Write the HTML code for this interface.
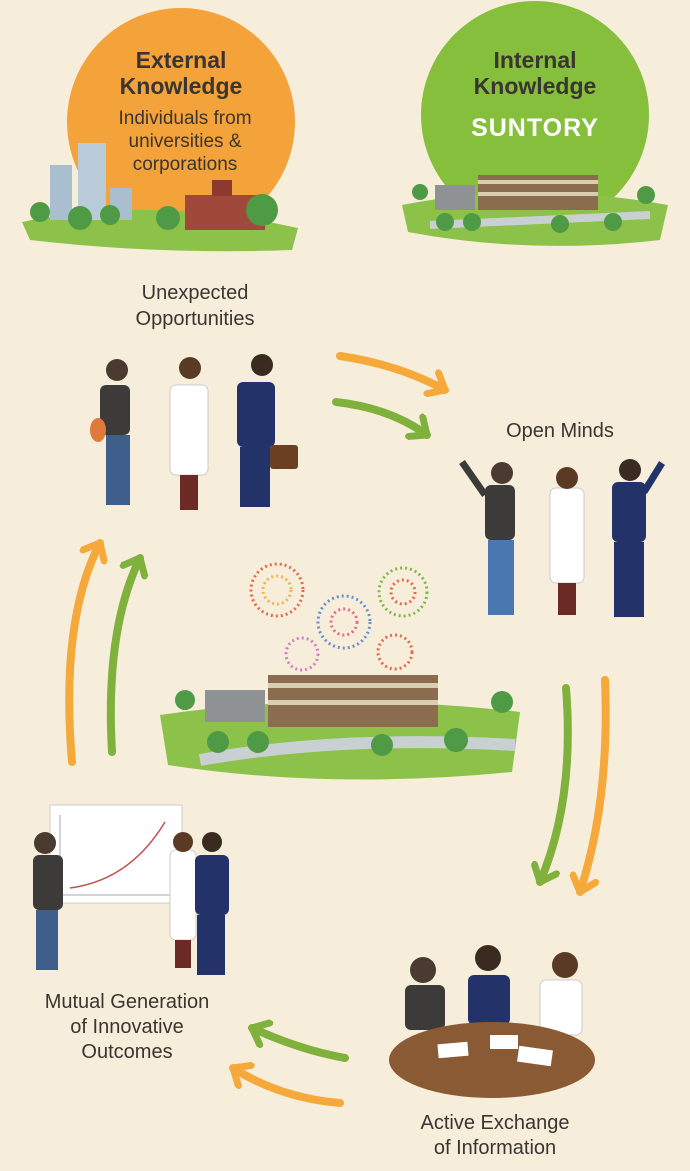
<!DOCTYPE html>
<html><head><meta charset="utf-8"><style>
body{margin:0;background:#f6eedb;}
svg{display:block}
text{font-family:"Liberation Sans",sans-serif;fill:#3a3530;}
</style></head><body>
<svg width="690" height="1171" viewBox="0 0 690 1171" xmlns="http://www.w3.org/2000/svg">
<defs>
<marker id="ao" markerWidth="30" markerHeight="30" refX="19" refY="15" orient="auto" markerUnits="userSpaceOnUse"><path d="M5,3 L19,15 L5,27" fill="none" stroke="#f5a93a" stroke-width="7" stroke-linecap="round" stroke-linejoin="round"/></marker>
<marker id="ag" markerWidth="30" markerHeight="30" refX="19" refY="15" orient="auto" markerUnits="userSpaceOnUse"><path d="M5,3 L19,15 L5,27" fill="none" stroke="#7fb13c" stroke-width="7" stroke-linecap="round" stroke-linejoin="round"/></marker>
</defs>
<rect width="690" height="1171" fill="#f6eedb"/>
<circle cx="181" cy="122" r="114" fill="#f4a23a"/>
<circle cx="535" cy="115" r="114" fill="#86bf3c"/>
<g text-anchor="middle" font-weight="bold">
<text x="181" y="68" font-size="23">External</text>
<text x="181" y="94" font-size="23">Knowledge</text>
<text x="535" y="68" font-size="23">Internal</text>
<text x="535" y="94" font-size="23">Knowledge</text>
<text x="535" y="136" font-size="25" style="fill:#fff" letter-spacing="1">SUNTORY</text>
</g>
<g text-anchor="middle" font-size="19">
<text x="185" y="124">Individuals from</text>
<text x="185" y="147">universities &amp;</text>
<text x="185" y="170">corporations</text>
</g>
<path d="M22,222 Q150,195 298,228 L292,250 Q160,255 30,240 Z" fill="#8cc14a"/>
<rect x="50" y="165" width="22" height="55" fill="#a9bfd0"/>
<rect x="78" y="143" width="28" height="77" fill="#b9cbd8"/>
<rect x="110" y="188" width="22" height="32" fill="#a9bfd0"/>
<rect x="185" y="195" width="80" height="35" fill="#a0493a"/>
<rect x="212" y="180" width="20" height="16" fill="#8b3a2d"/>
<circle cx="40" cy="212" r="10" fill="#4f9a45"/><circle cx="80" cy="218" r="12" fill="#4f9a45"/><circle cx="110" cy="215" r="10" fill="#4f9a45"/><circle cx="168" cy="218" r="12" fill="#4f9a45"/><circle cx="262" cy="210" r="16" fill="#4f9a45"/>
<path d="M402,205 Q530,180 668,205 L660,240 Q530,255 408,232 Z" fill="#8cc14a"/>
<path d="M430,225 L650,215" stroke="#c9d0d2" stroke-width="8"/>
<rect x="435" y="185" width="40" height="25" fill="#8f9294"/>
<rect x="478" y="175" width="120" height="35" fill="#8b6c4f"/>
<rect x="478" y="180" width="120" height="4" fill="#d9cfb0"/><rect x="478" y="192" width="120" height="4" fill="#d9cfb0"/>
<circle cx="420" cy="192" r="8" fill="#4f9a45"/><circle cx="445" cy="222" r="9" fill="#4f9a45"/><circle cx="472" cy="222" r="9" fill="#4f9a45"/><circle cx="560" cy="224" r="9" fill="#4f9a45"/><circle cx="613" cy="222" r="9" fill="#4f9a45"/><circle cx="646" cy="195" r="9" fill="#4f9a45"/>
<g text-anchor="middle" font-size="20">
<text x="195" y="299">Unexpected</text>
<text x="195" y="325">Opportunities</text>
<text x="560" y="437">Open Minds</text>
<text x="127" y="1008">Mutual Generation</text>
<text x="127" y="1033">of Innovative</text>
<text x="127" y="1058">Outcomes</text>
<text x="495" y="1129">Active Exchange</text>
<text x="495" y="1154">of Information</text>
</g>
<g fill="none" stroke-width="8" stroke-linecap="round">
<path d="M340,356 Q400,365 445,390" stroke="#f5a93a" marker-end="url(#ao)"/>
<path d="M336,402 Q390,408 427,435" stroke="#7fb13c" marker-end="url(#ag)"/>
<path d="M566,688 Q575,800 540,882" stroke="#7fb13c" marker-end="url(#ag)"/>
<path d="M605,680 Q610,800 580,892" stroke="#f5a93a" marker-end="url(#ao)"/>
<path d="M345,1058 Q300,1050 252,1028" stroke="#7fb13c" marker-end="url(#ag)"/>
<path d="M340,1103 Q280,1098 233,1068" stroke="#f5a93a" marker-end="url(#ao)"/>
<path d="M72,762 Q60,620 100,543" stroke="#f5a93a" marker-end="url(#ao)"/>
<path d="M112,752 Q105,630 140,558" stroke="#7fb13c" marker-end="url(#ag)"/>
</g>
<g>
<rect x="100" y="385" width="30" height="50" rx="6" fill="#3d3a3a"/>
<circle cx="117" cy="370" r="11" fill="#4a3a30"/>
<rect x="106" y="435" width="24" height="70" fill="#3f5e8c"/>
<ellipse cx="98" cy="430" rx="8" ry="12" fill="#e07a3a"/>
<rect x="170" y="385" width="38" height="90" rx="6" fill="#fff" stroke="#ccc"/>
<circle cx="190" cy="368" r="11" fill="#5a3a25"/>
<rect x="180" y="475" width="18" height="35" fill="#6b2a25"/>
<rect x="237" y="382" width="38" height="65" rx="6" fill="#23336a"/>
<circle cx="262" cy="365" r="11" fill="#3a2a20"/>
<rect x="240" y="447" width="30" height="60" fill="#23336a"/>
<rect x="270" y="445" width="28" height="24" rx="3" fill="#6b3f22"/>
</g>
<g>
<rect x="485" y="485" width="30" height="55" rx="6" fill="#3d3a3a"/>
<circle cx="502" cy="473" r="11" fill="#4a3a30"/>
<rect x="488" y="540" width="26" height="75" fill="#4b77b0"/>
<path d="M485,495 L462,462" stroke="#3d3a3a" stroke-width="7"/>
<rect x="550" y="488" width="34" height="95" rx="6" fill="#fff" stroke="#ccc"/>
<circle cx="567" cy="478" r="11" fill="#5a3a25"/>
<rect x="558" y="583" width="18" height="32" fill="#6b2a25"/>
<rect x="612" y="482" width="34" height="60" rx="6" fill="#23336a"/>
<circle cx="630" cy="470" r="11" fill="#3a2a20"/>
<rect x="614" y="542" width="30" height="75" fill="#23336a"/>
<path d="M644,492 L662,463" stroke="#23336a" stroke-width="7"/>
</g>
<g fill="none" stroke-dasharray="2 3" stroke-width="3">
<circle cx="277" cy="590" r="26" stroke="#e46a4a"/><circle cx="277" cy="590" r="14" stroke="#f1b54a"/>
<circle cx="344" cy="622" r="26" stroke="#6a8fd0"/><circle cx="344" cy="622" r="13" stroke="#e46a8a"/>
<circle cx="403" cy="592" r="24" stroke="#7fb84a"/><circle cx="403" cy="592" r="12" stroke="#e46a4a"/>
<circle cx="302" cy="654" r="16" stroke="#d080c0"/>
<circle cx="395" cy="652" r="17" stroke="#e46a4a"/>
</g>
<path d="M160,715 Q330,690 520,712 L512,772 Q330,790 168,765 Z" fill="#8cc14a"/>
<path d="M200,760 Q340,735 515,745" stroke="#c9d0d2" stroke-width="12" fill="none"/>
<rect x="205" y="690" width="60" height="32" fill="#8f9294"/>
<rect x="268" y="675" width="170" height="52" fill="#8b6c4f"/>
<rect x="268" y="683" width="170" height="5" fill="#d9cfb0"/><rect x="268" y="700" width="170" height="5" fill="#d9cfb0"/>
<circle cx="185" cy="700" r="10" fill="#4f9a45"/><circle cx="218" cy="742" r="11" fill="#4f9a45"/><circle cx="258" cy="742" r="11" fill="#4f9a45"/><circle cx="382" cy="745" r="11" fill="#4f9a45"/><circle cx="456" cy="740" r="12" fill="#4f9a45"/><circle cx="502" cy="702" r="11" fill="#4f9a45"/>
<rect x="50" y="805" width="132" height="98" fill="#fff" stroke="#ccc"/>
<path d="M60,895 L60,815 M60,895 L175,895" stroke="#aaa"/>
<path d="M70,888 Q130,880 165,822" stroke="#c0504d" stroke-width="1.5" fill="none"/>
<rect x="33" y="855" width="30" height="55" rx="6" fill="#3d3a3a"/>
<circle cx="45" cy="843" r="11" fill="#4a3a30"/>
<rect x="36" y="910" width="22" height="60" fill="#3f5e8c"/>
<rect x="170" y="850" width="26" height="90" rx="6" fill="#fff" stroke="#ccc"/>
<circle cx="183" cy="842" r="10" fill="#5a3a25"/>
<rect x="175" y="940" width="16" height="28" fill="#6b2a25"/>
<rect x="195" y="855" width="34" height="60" rx="6" fill="#23336a"/>
<circle cx="212" cy="842" r="10" fill="#3a2a20"/>
<rect x="197" y="915" width="28" height="60" fill="#23336a"/>
<rect x="405" y="985" width="40" height="45" rx="6" fill="#3d3a3a"/>
<circle cx="423" cy="970" r="13" fill="#4a3a30"/>
<rect x="468" y="975" width="42" height="50" rx="6" fill="#23336a"/>
<circle cx="488" cy="958" r="13" fill="#3a2a20"/>
<rect x="540" y="980" width="42" height="55" rx="6" fill="#fff" stroke="#ccc"/>
<circle cx="565" cy="965" r="13" fill="#5a3a25"/>
<ellipse cx="492" cy="1060" rx="103" ry="38" fill="#8a5a35"/>
<rect x="438" y="1043" width="30" height="14" fill="#fff" transform="rotate(-5 453 1050)"/>
<rect x="490" y="1035" width="28" height="14" fill="#fff"/>
<rect x="518" y="1048" width="34" height="16" fill="#fff" transform="rotate(8 535 1056)"/>
</svg>
</body></html>
